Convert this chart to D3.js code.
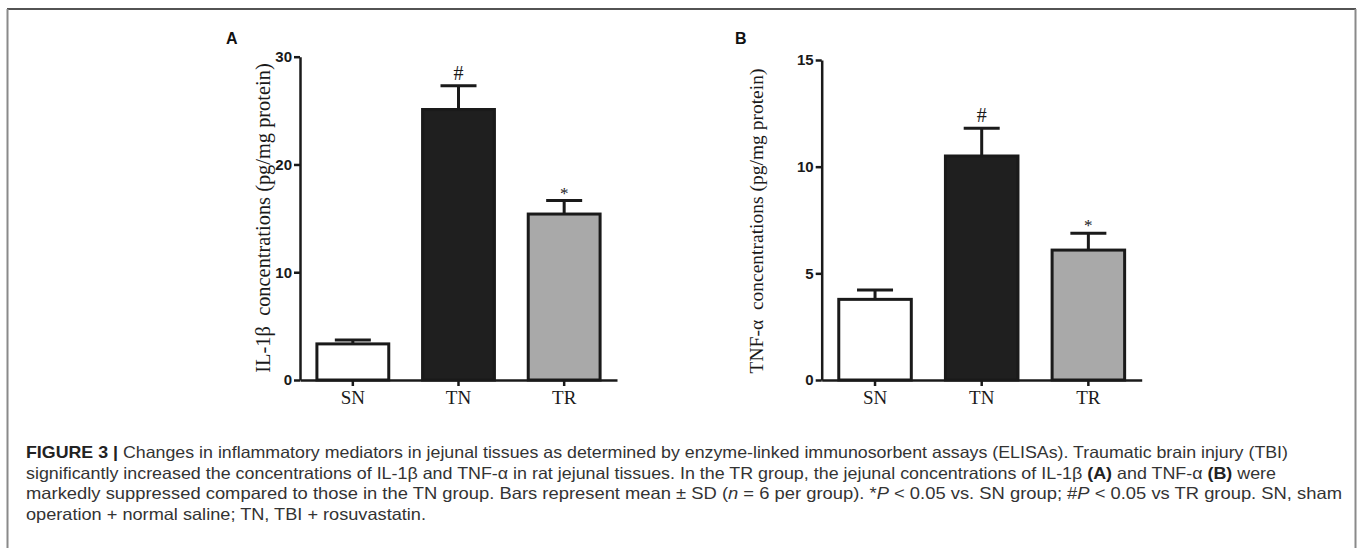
<!DOCTYPE html>
<html>
<head>
<meta charset="utf-8">
<script src="https://cdn.jsdelivr.net/npm/d3@7"></script>
<style>
  body { margin: 0; background: #fff; }
  svg { display: block; }
</style>
</head>
<body>
<div id="figure"></div>
<script>
// groups and values
const groups = ["SN", "TN", "TR"];
const il1bMean = [3.35, 25.1, 15.4];
const il1bSD = [0.36, 2.2, 1.25];
const tnfMean = [3.78, 10.5, 6.09];
const tnfSD = [0.44, 1.3, 0.79];
const il1bTicks = [0, 10, 20, 30];
const tnfTicks = [0, 5, 10, 15];
const barFills = ["#ffffff", "#1f1f1f", "#a9a9a9"];
const sigMarks = ["", "#", "*"];

const W = 1360, H = 548;

const svg = d3.select("#figure").append("svg")
    .attr("width", W)
    .attr("height", H);

svg.append("rect").attr("width", W).attr("height", H).attr("fill", "#fff");

// frame round the figure
svg.append("line").attr("x1", 7).attr("x2", 1356).attr("y1", 9).attr("y2", 9)
    .attr("stroke", "#1a1a1a").attr("stroke-width", 1.5);
svg.append("line").attr("x1", 7.5).attr("x2", 7.5).attr("y1", 9).attr("y2", H)
    .attr("stroke", "#8a8a8a").attr("stroke-width", 2);
svg.append("line").attr("x1", 1355.5).attr("x2", 1355.5).attr("y1", 9).attr("y2", H)
    .attr("stroke", "#8a8a8a").attr("stroke-width", 2);

function drawPanel(opts) {
    const g = svg.append("g");

    const x = d3.scaleBand()
        .domain(groups)
        .range([opts.x0, opts.x1])
        .paddingInner(0.32)
        .paddingOuter(0.16);

    const y = d3.scaleLinear()
        .domain([0, d3.max(opts.ticks)])
        .range([opts.yBottom, opts.yTop]);

    const rows = groups.map((k, i) => ({
        key: k, mean: opts.mean[i], sd: opts.sd[i], fill: barFills[i], mark: sigMarks[i]
    }));

    // y axis
    const yAxis = g.append("g")
        .attr("transform", `translate(${opts.x0},0)`)
        .call(d3.axisLeft(y).tickValues(opts.ticks).tickSize(6).tickSizeOuter(0).tickPadding(2));
    yAxis.select(".domain").attr("stroke", "#1a1a1a").attr("stroke-width", 2.5);
    yAxis.selectAll(".tick line").attr("stroke", "#1a1a1a").attr("stroke-width", 2.5);
    yAxis.selectAll(".tick text")
        .style("font-family", "'Liberation Sans', Arial, sans-serif")
        .style("font-weight", "bold")
        .style("font-size", "15px")
        .attr("fill", "#1a1a1a");

    // bars
    g.selectAll(".bar")
        .data(rows)
        .enter().append("rect")
        .attr("class", "bar")
        .attr("x", d => x(d.key))
        .attr("y", d => y(d.mean))
        .attr("width", x.bandwidth())
        .attr("height", d => y(0) - y(d.mean))
        .attr("fill", d => d.fill)
        .attr("stroke", "#1a1a1a")
        .attr("stroke-width", 3);

    // error bars (upper half only)
    const capHalf = 18;
    g.selectAll(".err")
        .data(rows)
        .enter().append("path")
        .attr("class", "err")
        .attr("d", d => {
            const cx = x(d.key) + x.bandwidth() / 2;
            return `M${cx},${y(d.mean)}V${y(d.mean + d.sd)}M${cx - capHalf},${y(d.mean + d.sd)}H${cx + capHalf}`;
        })
        .attr("fill", "none")
        .attr("stroke", "#1a1a1a")
        .attr("stroke-width", 3);

    // significance marks
    g.selectAll(".mark")
        .data(rows.filter(d => d.mark))
        .enter().append("text")
        .attr("class", "mark")
        .attr("x", d => x(d.key) + x.bandwidth() / 2)
        .attr("y", d => y(d.mean + d.sd) - (d.mark === "#" ? 6 : 2))
        .attr("text-anchor", "middle")
        .style("font-family", "'Liberation Serif', 'Times New Roman', serif")
        .style("font-size", d => d.mark === "#" ? "20px" : "17px")
        .attr("fill", "#1a1a1a")
        .text(d => d.mark);

    // x axis
    const xAxis = g.append("g")
        .attr("transform", `translate(0,${opts.yBottom})`)
        .call(d3.axisBottom(x).tickSize(6).tickSizeOuter(0).tickPadding(5));
    xAxis.select(".domain").attr("stroke", "#1a1a1a").attr("stroke-width", 2.5);
    xAxis.selectAll(".tick line").attr("stroke", "#1a1a1a").attr("stroke-width", 2.5);
    xAxis.selectAll(".tick text")
        .style("font-family", "'Liberation Serif', 'Times New Roman', serif")
        .style("font-size", "19px")
        .attr("fill", "#1a1a1a");

    // y axis title
    g.append("text")
        .attr("transform", `translate(${opts.labelX},${opts.labelY}) rotate(-90)`)
        .attr("text-anchor", "middle")
        .style("font-family", "'Liberation Serif', 'Times New Roman', serif")
        .style("font-size", opts.labelSize)
        .style("white-space", "pre")
        .attr("fill", "#1a1a1a")
        .text(opts.title);

    // panel letter
    g.append("text")
        .attr("x", opts.letterX)
        .attr("y", 44)
        .style("font-family", "'Liberation Sans', Arial, sans-serif")
        .style("font-weight", "bold")
        .style("font-size", "16px")
        .attr("fill", "#111")
        .text(opts.letter);
}

drawPanel({
    letter: "A", letterX: 226,
    x0: 300, x1: 617, yBottom: 380, yTop: 56.7,
    mean: il1bMean, sd: il1bSD, ticks: il1bTicks,
    title: "IL-1\u03B2  concentrations (pg/mg protein)",
    labelX: 270, labelY: 218, labelSize: "20.4px"
});

drawPanel({
    letter: "B", letterX: 735,
    x0: 821.7, x1: 1141.7, yBottom: 380, yTop: 60,
    mean: tnfMean, sd: tnfSD, ticks: tnfTicks,
    title: "TNF-\u03B1  concentrations (pg/mg protein)",
    labelX: 763, labelY: 221, labelSize: "19.5px"
});

// caption
const captionLines = [
    [["b", "FIGURE 3 |"], ["", " Changes in inflammatory mediators in jejunal tissues as determined by enzyme-linked immunosorbent assays (ELISAs). Traumatic brain injury (TBI)"]],
    [["", "significantly increased the concentrations of IL-1\u03B2 and TNF-\u03B1 in rat jejunal tissues. In the TR group, the jejunal concentrations of IL-1\u03B2 "], ["b", "(A)"], ["", " and TNF-\u03B1 "], ["b", "(B)"], ["", " were"]],
    [["", "markedly suppressed compared to those in the TN group. Bars represent mean \u00B1 SD ("], ["i", "n"], ["", " = 6 per group). *"], ["i", "P"], ["", " < 0.05 vs. SN group; #"], ["i", "P"], ["", " < 0.05 vs TR group. SN, sham"]],
    [["", "operation + normal saline; TN, TBI + rosuvastatin."]]
];
const captionWidths = [1262, 1250, 1316, 400];

const caption = svg.append("g");
captionLines.forEach((parts, i) => {
    const t = caption.append("text")
        .attr("x", 26)
        .attr("y", 458 + i * 20.5)
        .style("font-family", "'Liberation Sans', Arial, sans-serif")
        .style("font-size", "16.5px")
        .style("white-space", "pre")
        .attr("fill", "#333")
        .attr("textLength", captionWidths[i])
        .attr("lengthAdjust", "spacingAndGlyphs");
    parts.forEach(([kind, str]) => {
        const s = t.append("tspan").text(str);
        if (kind === "b") s.style("font-weight", "bold").attr("fill", "#222");
        if (kind === "i") s.style("font-style", "italic");
    });
});
</script>
</body>
</html>
